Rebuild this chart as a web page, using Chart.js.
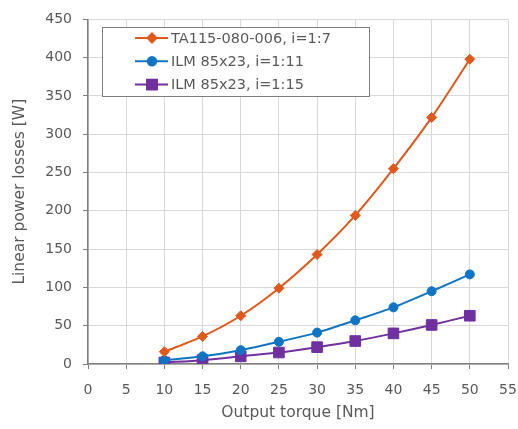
<!DOCTYPE html>
<html>
<head>
<meta charset="utf-8">
<script src="https://cdn.jsdelivr.net/npm/chart.js@4"></script>
<style>
  html, body { margin: 0; padding: 0; background: #fff; }
  #wrap { width: 518px; height: 429px; }
</style>
</head>
<body>
<div id="wrap"><canvas id="chart" width="518" height="429"></canvas></div>
<script>
// ----------------- Data -----------------
const torque = [10, 15, 20, 25, 30, 35, 40, 45, 50];
const ta115 = [16, 36, 63, 99, 143, 194, 255, 322, 398];
const ilm11 = [5, 10, 18, 29, 41, 57, 74, 95, 117];
const ilm15 = [2, 5, 10, 15, 22, 30, 40, 51, 63];
const seriesNames = ['TA115-080-006, i=1:7', 'ILM 85x23, i=1:11', 'ILM 85x23, i=1:15'];

const FONT = '"DejaVu Sans", sans-serif';
const TEXT = '#595959';

function pts(ys) { return torque.map((x, i) => ({ x, y: ys[i] })); }

// legend drawn inside the plot, like the original
const legendRadius = [4.5, 4.2, 7];
const boxLegend = {
  id: 'boxLegend',
  afterDraw(chart) {
    const ctx = chart.ctx;
    const x0 = 102, y0 = 27, w = 267, h = 69;
    ctx.save();
    ctx.fillStyle = '#fff';
    ctx.fillRect(x0, y0, w, h);
    ctx.strokeStyle = '#7f7f7f';
    ctx.lineWidth = 1;
    ctx.strokeRect(x0 + 0.5, y0 + 0.5, w, h);
    chart.data.datasets.forEach((ds, i) => {
      const y = 38 + i * 23.3;
      ctx.strokeStyle = ds.borderColor;
      ctx.lineWidth = 2;
      ctx.beginPath();
      ctx.moveTo(135, y);
      ctx.lineTo(168, y);
      ctx.stroke();
      Chart.helpers.drawPoint(ctx, {
        pointStyle: ds.pointStyle, radius: legendRadius[i], borderWidth: 1
      }, 152, y);
      ctx.fillStyle = ds.backgroundColor;
      ctx.fill();
      ctx.fillStyle = TEXT;
      ctx.font = '14.5px ' + FONT;
      ctx.textBaseline = 'middle';
      ctx.fillText(ds.label, 171, y + 1);
    });
    ctx.restore();
  }
};

const common = { borderWidth: 2, tension: 0.25, fill: false, pointBorderWidth: 1 };

new Chart(document.getElementById('chart'), {
  type: 'line',
  data: {
    datasets: [
      { ...common, label: seriesNames[0], data: pts(ta115), borderColor: '#E2581A', backgroundColor: '#E2581A',
        pointStyle: 'rectRot', pointRadius: 5 },
      { ...common, label: seriesNames[1], data: pts(ilm11), borderColor: '#0F74C4', backgroundColor: '#0F74C4',
        pointStyle: 'circle', pointRadius: 4.5 },
      { ...common, label: seriesNames[2], data: pts(ilm15), borderColor: '#7030A0', backgroundColor: '#7030A0',
        pointStyle: 'rect', pointRadius: 7.5 }
    ]
  },
  options: {
    responsive: false,
    animation: false,
    layout: { padding: { top: 13, right: 10, left: 4, bottom: 7 } },
    plugins: { legend: { display: false }, tooltip: { enabled: false } },
    scales: {
      x: {
        type: 'linear', min: 0, max: 55,
        ticks: { stepSize: 5, color: TEXT, font: { family: FONT, size: 14 }, padding: 13 },
        grid: { color: '#d9d9d9', tickColor: '#808080', tickLength: 5 },
        border: { color: '#808080', width: 1.5 },
        title: { display: true, text: 'Output torque [Nm]', color: TEXT, font: { family: FONT, size: 15.5 }, padding: { top: 4, bottom: 0 } },
        afterFit(s) { s.height = 58; s.paddingRight = 0; }
      },
      y: {
        min: 0, max: 450,
        ticks: { stepSize: 50, color: TEXT, font: { family: FONT, size: 14 }, padding: 11 },
        grid: { color: '#d9d9d9', tickColor: '#808080', tickLength: 5 },
        border: { color: '#808080', width: 1.5 },
        title: { display: true, text: 'Linear power losses [W]', color: TEXT, font: { family: FONT, size: 15.5 }, padding: { top: 7, bottom: 2 } },
        afterFit(s) { s.width = 84; }
      }
    }
  },
  plugins: [boxLegend]
});
</script>
</body>
</html>
